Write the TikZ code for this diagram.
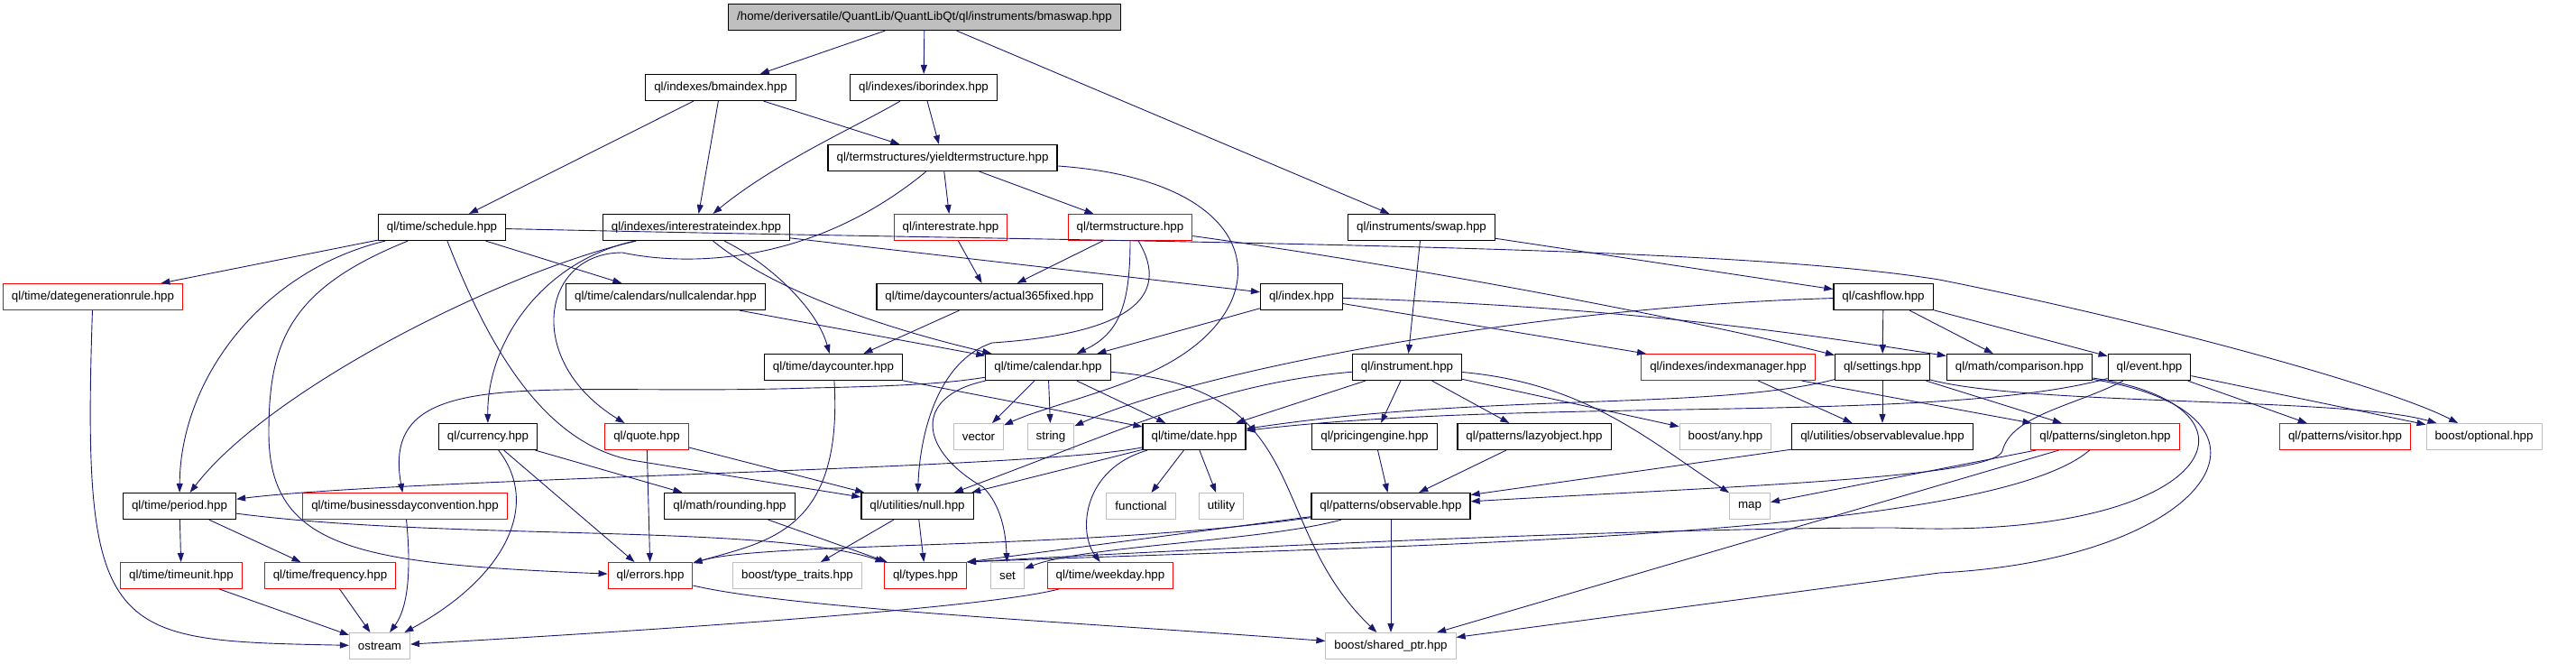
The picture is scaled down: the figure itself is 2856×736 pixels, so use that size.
\documentclass[tikz,border=0pt]{standalone}
\usepackage{fontspec}
\setmainfont{Liberation Sans}
\usetikzlibrary{arrows.meta}
\definecolor{edgeblue}{HTML}{191970}
\definecolor{extgray}{HTML}{BFBFBF}
\definecolor{truncred}{HTML}{FF0000}

\begin{document}
\begin{tikzpicture}[
	x=1pt, y=-1pt,
	box/.style={
		draw=black, line width=1.2pt, rectangle,
		minimum height=29pt, inner xsep=9.5pt, inner ysep=0pt,
		font=\fontsize{13.33}{15}\selectfont
	},
	boxred/.style={box, draw=truncred, line width=1pt},
	boxext/.style={box, draw=extgray, line width=1pt},
	boxroot/.style={box, fill=extgray},
	edge/.style={-{Triangle[length=10pt,width=7pt]}, draw=edgeblue, line width=0.9pt},
	]
	\useasboundingbox (0,0) rectangle (2856,736);
	
	\node[boxroot] (root)     at (1025, 19)  {/home/deriversatile/QuantLib/QuantLibQt/ql/instruments/bmaswap.hpp};
	\node[box]     (bmaidx)   at (799, 97)   {ql/indexes/bmaindex.hpp};
	\node[box]     (iboridx)  at (1024, 97)  {ql/indexes/iborindex.hpp};
	\node[box]     (yts)      at (1045, 175) {ql/termstructures/yieldtermstructure.hpp};
	\node[box]     (sched)    at (490, 252)  {ql/time/schedule.hpp};
	\node[box]     (iridx)    at (772, 252)  {ql/indexes/interestrateindex.hpp};
	\node[boxred]  (irate)    at (1054, 252) {ql/interestrate.hpp};
	\node[boxred]  (tstruct)  at (1253, 252) {ql/termstructure.hpp};
	\node[box]     (swap)     at (1576, 252) {ql/instruments/swap.hpp};
	\node[boxred]  (dgrule)   at (103, 329)  {ql/time/dategenerationrule.hpp};
	\node[box]     (nullcal)  at (738, 329)  {ql/time/calendars/nullcalendar.hpp};
	\node[box]     (act365)   at (1097, 329) {ql/time/daycounters/actual365fixed.hpp};
	\node[box]     (index)    at (1443, 329) {ql/index.hpp};
	\node[box]     (cashflow) at (2088, 329) {ql/cashflow.hpp};
	\node[box]     (daycnt)   at (924, 407)  {ql/time/daycounter.hpp};
	\node[box]     (calendar) at (1162, 407) {ql/time/calendar.hpp};
	\node[box]     (instr)    at (1560, 407) {ql/instrument.hpp};
	\node[boxred]  (idxmgr)   at (1916, 407) {ql/indexes/indexmanager.hpp};
	\node[box]     (settings) at (2087, 407) {ql/settings.hpp};
	\node[box]     (compar)   at (2239, 407) {ql/math/comparison.hpp};
	\node[box]     (event)    at (2383, 407) {ql/event.hpp};
	\node[box]     (currency) at (541, 484)  {ql/currency.hpp};
	\node[boxred]  (quote)    at (717, 484)  {ql/quote.hpp};
	\node[boxext]  (vector)   at (1085, 484) {vector};
	\node[boxext]  (string)   at (1165, 484) {string};
	\node[box]     (date)     at (1324, 484) {ql/time/date.hpp};
	\node[box]     (pengine)  at (1524, 484) {ql/pricingengine.hpp};
	\node[box]     (lazy)     at (1701, 484) {ql/patterns/lazyobject.hpp};
	\node[boxext]  (any)      at (1913, 484) {boost/any.hpp};
	\node[box]     (obsval)   at (2087, 484) {ql/utilities/observablevalue.hpp};
	\node[boxred]  (singleton) at (2334, 484) {ql/patterns/singleton.hpp};
	\node[boxred]  (visitor)  at (2600, 484) {ql/patterns/visitor.hpp};
	\node[boxext]  (optional) at (2754, 484) {boost/optional.hpp};
	\node[box]     (period)   at (199, 561)  {ql/time/period.hpp};
	\node[boxred]  (bdc)      at (449, 561)  {ql/time/businessdayconvention.hpp};
	\node[box]     (rounding) at (809, 561)  {ql/math/rounding.hpp};
	\node[box]     (utilnull) at (1017, 561) {ql/utilities/null.hpp};
	\node[boxext]  (functional) at (1265, 561) {functional};
	\node[boxext]  (utility)  at (1354, 561) {utility};
	\node[box]     (observable) at (1542, 561) {ql/patterns/observable.hpp};
	\node[boxext]  (map)      at (1940, 561) {map};
	\node[boxred]  (timeunit) at (201, 638)  {ql/time/timeunit.hpp};
	\node[boxred]  (frequency) at (366, 638) {ql/time/frequency.hpp};
	\node[boxred]  (errors)   at (721, 638)  {ql/errors.hpp};
	\node[boxext]  (typetraits) at (884, 638) {boost/type\_traits.hpp};
	\node[boxred]  (types)    at (1026, 638) {ql/types.hpp};
	\node[boxext]  (set)      at (1117, 638) {set};
	\node[boxred]  (weekday)  at (1231, 638) {ql/time/weekday.hpp};
	\node[boxext]  (ostream)  at (421, 716)  {ostream};
	\node[boxext]  (sharedptr) at (1542, 716) {boost/shared\_ptr.hpp};
	
	\draw[edge] (root) -- (bmaidx);
	\draw[edge] (root) -- (iboridx);
	\draw[edge] (root) -- (swap);
	\draw[edge] (bmaidx) -- (sched);
	\draw[edge] (bmaidx) -- (iridx);
	\draw[edge] (bmaidx) -- (yts);
	\draw[edge] (iboridx) .. controls (950,140) and (860,180) .. (iridx);
	\draw[edge] (iboridx) -- (yts);
	\draw[edge] (yts) -- (irate);
	\draw[edge] (yts) -- (tstruct);
	\draw[edge] (yts) .. controls (900,295) and (760,295) .. (690,280) .. controls (600,280) and (580,400) .. (quote);
	\draw[edge] (yts) .. controls (1400,200) and (1420,330) .. (1300,400) .. controls (1250,430) and (1160,450) .. (vector);
	
	\draw[edge] (sched) -- (dgrule);
	\draw[edge] (sched) -- (nullcal);
	\draw[edge] (sched) .. controls (290,300) and (200,420) .. (period);
	\draw[edge] (sched) .. controls (320,320) and (298,380) .. (298,480) .. controls (298,610) and (400,625) .. (errors);
	\draw[edge] (sched) .. controls (540,380) and (600,490) .. (700,510) -- (utilnull);
	\draw[edge] (sched) .. controls (1300,270) and (1900,270) .. (2150,310) .. controls (2400,360) and (2650,430) .. (optional);
	
	\draw[edge] (iridx) -- (index);
	\draw[edge] (iridx) .. controls (560,300) and (300,430) .. (period);
	\draw[edge] (iridx) .. controls (600,290) and (540,380) .. (currency);
	\draw[edge] (iridx) .. controls (850,290) and (905,340) .. (daycnt);
	\draw[edge] (iridx) .. controls (880,340) and (1050,380) .. (calendar);
	\draw[edge] (irate) -- (act365);
	\draw[edge] (tstruct) -- (act365);
	\draw[edge] (tstruct) .. controls (1253,340) and (1240,370) .. (calendar);
	\draw[edge] (tstruct) .. controls (1300,330) and (1250,370) .. (1100,380) .. controls (1040,400) and (1020,480) .. (utilnull);
	\draw[edge] (tstruct) .. controls (1600,300) and (1900,360) .. (settings);
	
	\draw[edge] (nullcal) -- (calendar);
	\draw[edge] (act365) -- (daycnt);
	\draw[edge] (index) -- (calendar);
	\draw[edge] (index) -- (idxmgr);
	\draw[edge] (index) .. controls (1800,340) and (2000,370) .. (compar);
	\draw[edge] (swap) -- (instr);
	\draw[edge] (swap) -- (cashflow);
	\draw[edge] (cashflow) -- (settings);
	\draw[edge] (cashflow) -- (compar);
	\draw[edge] (cashflow) -- (event);
	\draw[edge] (cashflow) .. controls (1700,340) and (1330,410) .. (string);
	
	\draw[edge] (daycnt) -- (date);
	\draw[edge] (daycnt) .. controls (935,590) and (850,600) .. (errors);
	\draw[edge] (calendar) -- (vector);
	\draw[edge] (calendar) -- (string);
	\draw[edge] (calendar) -- (date);
	\draw[edge] (calendar) .. controls (1010,440) and (1020,500) .. (1090,540) .. controls (1110,560) and (1115,590) .. (set);
	\draw[edge] (calendar) .. controls (1050,425) and (1000,428) .. (900,430) .. controls (600,440) and (420,400) .. (bdc);
	\draw[edge] (calendar) .. controls (1460,430) and (1400,580) .. (sharedptr);
	
	\draw[edge] (instr) -- (date);
	\draw[edge] (instr) .. controls (1350,425) and (1250,475) .. (utilnull);
	\draw[edge] (instr) -- (pengine);
	\draw[edge] (instr) -- (lazy);
	\draw[edge] (instr) -- (any);
	\draw[edge] (instr) .. controls (1760,425) and (1830,490) .. (map);
	\draw[edge] (pengine) -- (observable);
	\draw[edge] (lazy) -- (observable);
	\draw[edge] (obsval) -- (observable);
	\draw[edge] (idxmgr) -- (obsval);
	\draw[edge] (idxmgr) -- (singleton);
	\draw[edge] (settings) -- (obsval);
	\draw[edge] (settings) -- (singleton);
	\draw[edge] (settings) .. controls (1900,455) and (1650,435) .. (date);
	\draw[edge] (settings) .. controls (2250,450) and (2600,440) .. (optional);
	\draw[edge] (event) .. controls (2150,470) and (1700,440) .. (date);
	\draw[edge] (event) .. controls (2300,450) and (2230,460) .. (2220,500) .. controls (2210,530) and (1900,540) .. (observable);
	\draw[edge] (event) -- (visitor);
	\draw[edge] (event) -- (optional);
	
	% curves from the right going back to the bottom rows
	\draw[edge] (compar) .. controls (2530,450) and (2460,600) .. (2100,585) .. controls (1800,585) and (1300,610) .. (types.north east);
	\draw[edge] (compar) .. controls (2560,460) and (2450,620) .. (2150,635) -- (sharedptr);
	\draw[edge] (singleton) -- (map);
	\draw[edge] (singleton) -- (sharedptr);
	\draw[edge] (singleton) .. controls (2200,600) and (1500,605) .. (types.north east);
	\draw[edge] (observable) .. controls (1200,610) and (850,600) .. (errors);
	\draw[edge] (observable) -- (types.north east);
	\draw[edge] (observable) .. controls (1400,600) and (1200,605) .. (set);
	\draw[edge] (observable) -- (sharedptr);
	
	\draw[edge] (date) -- (functional);
	\draw[edge] (date) -- (utility);
	\draw[edge] (date) -- (utilnull);
	\draw[edge] (date) .. controls (1200,520) and (1195,590) .. (weekday);
	\draw[edge] (date) .. controls (1150,520) and (450,530) .. (period);
	\draw[edge] (currency) -- (errors);
	\draw[edge] (currency) -- (rounding);
	\draw[edge] (currency) .. controls (600,560) and (560,640) .. (ostream);
	\draw[edge] (quote) -- (errors);
	\draw[edge] (quote) -- (utilnull);
	\draw[edge] (rounding) -- (types);
	\draw[edge] (utilnull) -- (types);
	\draw[edge] (utilnull) -- (typetraits);
	\draw[edge] (period) -- (timeunit);
	\draw[edge] (period) -- (frequency);
	\draw[edge] (period) .. controls (500,600) and (850,580) .. (types);
	\draw[edge] (bdc) .. controls (455,620) and (455,670) .. (ostream);
	\draw[edge] (timeunit) -- (ostream);
	\draw[edge] (frequency) -- (ostream);
	\draw[edge] (dgrule) .. controls (90,710) and (120,710) .. (ostream);
	\draw[edge] (errors) .. controls (880,675) and (1200,690) .. (sharedptr);
	\draw[edge] (weekday) .. controls (1090,675) and (700,700) .. (ostream);
	
\end{tikzpicture}
\end{document}
